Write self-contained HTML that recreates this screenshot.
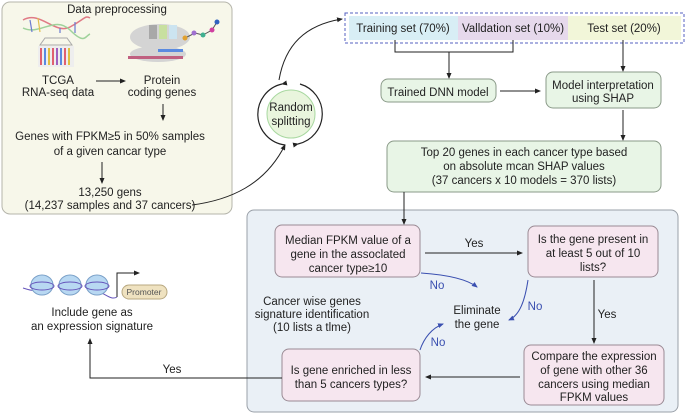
<!DOCTYPE html>
<html><head><meta charset="utf-8"><style>
body{margin:0;background:#fff;}
svg{display:block;font-family:"Liberation Sans",Arial,sans-serif;}
text{font-size:11.5px;fill:#222;}
.c{text-anchor:middle;}
.b{fill:#3a4fb0;}
</style></head><body>
<svg width="685" height="414" viewBox="0 0 685 414" xmlns="http://www.w3.org/2000/svg">
<defs>
<marker id="a" markerWidth="6" markerHeight="6" refX="5" refY="3" orient="auto" markerUnits="userSpaceOnUse"><path d="M0,0.5 L6,3 L0,5.5z" fill="#222"/></marker>
<marker id="ab" markerWidth="6" markerHeight="6" refX="5" refY="3" orient="auto" markerUnits="userSpaceOnUse"><path d="M0,0.5 L6,3 L0,5.5z" fill="#3a4fb0"/></marker>
</defs>
<rect x="2" y="2" width="230" height="212" rx="8" fill="#f7f7ea" stroke="#b5b5ab"/>
<text x="117" y="13" class="c">Data preprocessing</text>
<path d="M23,20 C40,10 55,35 70,27 S85,15 90,18" stroke="#e07a85" stroke-width="1.5" fill="none"/>
<path d="M23,28 C40,36 55,15 70,30 S85,36 90,34" stroke="#9fd29b" stroke-width="1.5" fill="none"/>
<g stroke-width="1.2"><line x1="30" y1="20" x2="32" y2="32" stroke="#6a7bd0"/><line x1="38" y1="18" x2="40" y2="32" stroke="#e0c050"/><line x1="60" y1="28" x2="60" y2="33" stroke="#6a7bd0"/><line x1="75" y1="22" x2="75" y2="33" stroke="#6a7bd0"/></g>
<path d="M45,38 L67,38 L72,45 L40,45z" fill="none" stroke="#aaa"/>
<rect x="38" y="46" width="36" height="21" fill="#eee"/>
<g stroke-width="2"><line x1="41" y1="48" x2="41" y2="65" stroke="#e06070"/><line x1="45" y1="48" x2="45" y2="65" stroke="#5a8ae0"/><line x1="49" y1="48" x2="49" y2="65" stroke="#e0c040"/><line x1="53" y1="48" x2="53" y2="65" stroke="#e06070"/><line x1="57" y1="48" x2="57" y2="65" stroke="#a060c0"/><line x1="61" y1="48" x2="61" y2="65" stroke="#5a8ae0"/><line x1="65" y1="48" x2="65" y2="65" stroke="#e06070"/><line x1="69" y1="48" x2="69" y2="65" stroke="#e0c040"/></g>
<ellipse cx="160" cy="37" rx="30" ry="13" fill="#d4d4d4"/>
<ellipse cx="158" cy="54" rx="28" ry="8" fill="#d4d4d4"/>
<rect x="149" y="25" width="8" height="14" fill="#a8a8a8"/><rect x="159" y="25" width="8" height="14" fill="#c8e0a0"/><rect x="169" y="25" width="8" height="14" fill="#cce4f0"/>
<rect x="128" y="56" width="55" height="3" fill="#c06080"/><rect x="158" y="49" width="25" height="3" fill="#5a8ae0"/>
<path d="M185,38 L195,33 L203,35 L212,30 L217,22" stroke="#555" fill="none"/>
<circle cx="185" cy="38" r="2.5" fill="#e0a030"/><circle cx="194" cy="33" r="2.5" fill="#a070d0"/><circle cx="203" cy="35" r="2.5" fill="#40b090"/><circle cx="212" cy="30" r="2.5" fill="#d040a0"/><circle cx="217" cy="22" r="2.5" fill="#3060c0"/>
<text x="58" y="84" class="c">TCGA</text>
<text x="58" y="96" class="c">RNA-seq data</text>
<line x1="96" y1="81" x2="125" y2="81" stroke="#222" marker-end="url(#a)"/>
<text x="162" y="84" class="c">Protein</text>
<text x="162" y="96" class="c">coding genes</text>
<line x1="163" y1="104" x2="163" y2="120" stroke="#222" marker-end="url(#a)"/>
<text x="110" y="140" class="c">Genes with FPKM≥5 in 50% samples</text>
<text x="110" y="155" class="c">of a given cancar type</text>
<line x1="102" y1="162" x2="102" y2="183" stroke="#222" marker-end="url(#a)"/>
<text x="110" y="196" class="c">13,250 gens</text>
<text x="110" y="209" class="c">(14,237 samples and 37 cancers)</text>
<path d="M192,205 C230,200 265,185 285,145" stroke="#222" fill="none" marker-end="url(#a)"/>
<path d="M279,80 C285,45 305,25 342,19" stroke="#222" fill="none" marker-end="url(#a)"/>
<circle cx="291" cy="114" r="24" fill="#e9f5dd" stroke="#a8d8a0"/>
<path d="M282,84 A31,31 0 0 0 285,145" stroke="#222" fill="none" stroke-width="1.2" marker-start="url(#a)"/>
<path d="M298,144 A31,31 0 0 0 300,84" stroke="#222" fill="none" stroke-width="1.2" marker-start="url(#a)"/>
<text x="291" y="111" class="c">Random</text>
<text x="291" y="125" class="c">splitting</text>
<rect x="345" y="13" width="339" height="30" fill="none" stroke="#5560c0" stroke-dasharray="3,2"/>
<rect x="349" y="16" width="109" height="24" fill="#d8eef5"/>
<rect x="458" y="16" width="110" height="24" fill="#e6d9ec"/>
<rect x="568" y="16" width="113" height="24" fill="#f2f6d9"/>
<text x="403" y="32" class="c">Training set (70%)</text>
<text x="513" y="32" class="c">Valldation set (10%)</text>
<text x="624" y="32" class="c">Test set (20%)</text>
<path d="M395,40 V52 H513 V40" stroke="#222" fill="none"/>
<line x1="449" y1="52" x2="449" y2="78" stroke="#222" marker-end="url(#a)"/>
<line x1="623" y1="40" x2="623" y2="71" stroke="#222" marker-end="url(#a)"/>
<rect x="381" y="79" width="115" height="23" rx="7" fill="#e8f5e6" stroke="#8a9a88"/>
<text x="438" y="96" class="c">Trained DNN model</text>
<line x1="500" y1="91" x2="540" y2="91" stroke="#222" marker-end="url(#a)"/>
<rect x="546" y="72" width="115" height="36" rx="7" fill="#e8f5e6" stroke="#8a9a88"/>
<text x="603" y="89" class="c">Model interpretation</text>
<text x="603" y="102" class="c">using SHAP</text>
<line x1="623" y1="110" x2="623" y2="140" stroke="#222" marker-end="url(#a)"/>
<rect x="387" y="141" width="274" height="51" rx="7" fill="#e8f5e6" stroke="#8a9a88"/>
<text x="524" y="156" class="c">Top 20 genes in each cancer type based</text>
<text x="524" y="170" class="c">on absolute mcan SHAP values</text>
<text x="524" y="184" class="c">(37 cancers x 10 models = 370 lists)</text>
<rect x="247" y="210" width="431" height="202" rx="7" fill="#eaf0f6" stroke="#9aa0a8"/>
<line x1="404" y1="192" x2="404" y2="224" stroke="#222" marker-end="url(#a)"/>
<rect x="275" y="225" width="145" height="52" rx="7" fill="#f6e6ef" stroke="#9a8a94"/>
<text x="348" y="244" class="c">Median FPKM value of a</text>
<text x="348" y="258" class="c">gene in the assoclated</text>
<text x="348" y="272" class="c">cancer type≥10</text>
<line x1="425" y1="253" x2="522" y2="253" stroke="#222" marker-end="url(#a)"/>
<text x="474" y="247" class="c">Yes</text>
<rect x="528" y="226" width="130" height="51" rx="7" fill="#f6e6ef" stroke="#9a8a94"/>
<text x="593" y="243" class="c">Is the gene present in</text>
<text x="593" y="257" class="c">at least 5 out of 10</text>
<text x="593" y="271" class="c">lists?</text>
<line x1="594" y1="280" x2="594" y2="343" stroke="#222" marker-end="url(#a)"/>
<text x="607" y="318" class="c">Yes</text>
<rect x="524" y="345" width="140" height="60" rx="7" fill="#f6e6ef" stroke="#9a8a94"/>
<text x="594" y="360" class="c">Compare the expression</text>
<text x="594" y="374" class="c">of gene with other 36</text>
<text x="594" y="388" class="c">cancers using median</text>
<text x="594" y="401" class="c">FPKM values</text>
<line x1="520" y1="377" x2="426" y2="377" stroke="#222" marker-end="url(#a)"/>
<rect x="282" y="349" width="138" height="52" rx="7" fill="#f6e6ef" stroke="#9a8a94"/>
<text x="351" y="374" class="c">Is gene enriched in less</text>
<text x="351" y="388" class="c">than 5 cancers types?</text>
<path d="M282,378 H90 V339" stroke="#222" fill="none" marker-end="url(#a)"/>
<text x="172" y="373" class="c">Yes</text>
<text x="312" y="305" class="c">Cancer wise genes</text>
<text x="312" y="318" class="c">signature identification</text>
<text x="312" y="331" class="c">(10 lists a tlme)</text>
<text x="477" y="314" class="c">Eliminate</text>
<text x="477" y="328" class="c">the gene</text>
<path d="M421,273 C450,275 468,280 477,287" stroke="#3a4fb0" fill="none" marker-end="url(#ab)"/>
<text x="437" y="289" class="c b">No</text>
<path d="M528,280 C525,300 520,315 509,320" stroke="#3a4fb0" fill="none" marker-end="url(#ab)"/>
<text x="535" y="310" class="c b">No</text>
<path d="M420,350 C424,338 432,328 443,324" stroke="#3a4fb0" fill="none" marker-end="url(#ab)"/>
<text x="438" y="346" class="c b">No</text>
<path d="M23,288 C30,290 33,292 40,288 M100,292 C108,296 112,300 117,297" stroke="#6655bb" fill="none"/>
<g fill="#b8d8f2" stroke="#7aa0c8"><ellipse cx="42" cy="285" rx="11" ry="10"/><ellipse cx="70" cy="285" rx="11" ry="10"/><ellipse cx="97" cy="285" rx="11" ry="10"/></g>
<g stroke="#6655bb" fill="none"><ellipse cx="42" cy="286" rx="12" ry="4"/><ellipse cx="70" cy="286" rx="12" ry="4"/><ellipse cx="97" cy="286" rx="12" ry="4"/></g>
<path d="M117,297 V273 H139" stroke="#222" fill="none" marker-end="url(#a)"/>
<rect x="122" y="285" width="45" height="14" rx="7" fill="#efe2c0" stroke="#b8a880"/>
<text x="144" y="295" class="c" style="font-size:8.5px;fill:#555">Promoter</text>
<text x="92" y="316" class="c">Include gene as</text>
<text x="92" y="330" class="c">an expression signature</text>
</svg>
</body></html>
